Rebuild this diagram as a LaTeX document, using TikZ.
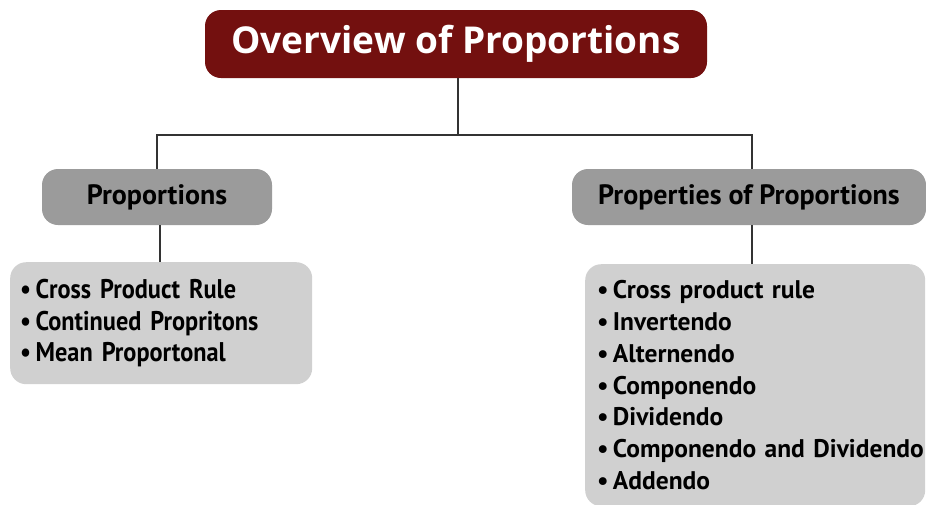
\documentclass[tikz,border=0pt]{standalone}
\usepackage{fontspec}
\setmainfont{PT Sans}
\newfontfamily\titlefont{Open Sans}
\newfontfamily\condfont[FakeStretch=0.9]{PT Sans}
\definecolor{titlered}{HTML}{73100F}
\definecolor{headgray}{HTML}{9B9B9B}
\definecolor{listgray}{HTML}{D0D0D0}
\definecolor{linegray}{HTML}{333333}
\tikzset{
  titlebox/.style={fill=titlered, rounded corners=16pt, text=white, font=\titlefont\bfseries\fontsize{37}{42}\selectfont, inner sep=0pt, minimum width=502pt, minimum height=68pt},
  headbox/.style={fill=headgray, rounded corners=16pt, text=black, font=\bfseries\fontsize{28}{32}\selectfont, inner sep=0pt, minimum height=56pt},
  listbox/.style={fill=listgray, rounded corners=16pt, text=black, align=left, anchor=north west, inner ysep=0pt, minimum height=#1},
  conn/.style={draw=linegray, line width=1.6pt},
}
\begin{document}
\begin{tikzpicture}[x=1pt,y=-1pt]
\useasboundingbox (0,0) rectangle (926,504);
\node[titlebox] (title) at (456,44) {Overview of Proportions};
\node[headbox, minimum width=230pt] (h1) at (157,197) {Proportions};
\node[headbox, minimum width=354pt] (h2) at (749,197) {Properties of Proportions};
\node[listbox=122pt, text width=282pt, inner xsep=10pt, font=\condfont\bfseries\fontsize{27}{31.5}\selectfont] (l1) at (10,262)
  {\textbullet\,Cross Product Rule\\ \textbullet\,Continued Propritons\\ \textbullet\,Mean Proportonal};
\node[listbox=242pt, text width=316pt, inner xsep=12pt, font=\bfseries\fontsize{25.5}{31.8}\selectfont] (l2) at (585,264)
  {\mbox{\textbullet\,Cross product rule}\\ \mbox{\textbullet\,Invertendo}\\ \mbox{\textbullet\,Alternendo}\\ \mbox{\textbullet\,Componendo}\\ \mbox{\textbullet\,Dividendo}\\ \mbox{\textbullet\,Componendo and Dividendo}\\ \mbox{\textbullet\,Addendo}};
\coordinate (hub) at (458,135);
\coordinate (lefttop) at (157,135);
\coordinate (righttop) at (752,135);
\draw[conn] (title.south -| hub) -- (hub);
\draw[conn] (h1.north -| lefttop) -- (lefttop) -- (righttop) -- (h2.north -| righttop);
\draw[conn] (h1.south -| 160,0) -- (l1.north -| 160,0);
\draw[conn] (h2.south -| righttop) -- (l2.north -| righttop);
\end{tikzpicture}
\end{document}
